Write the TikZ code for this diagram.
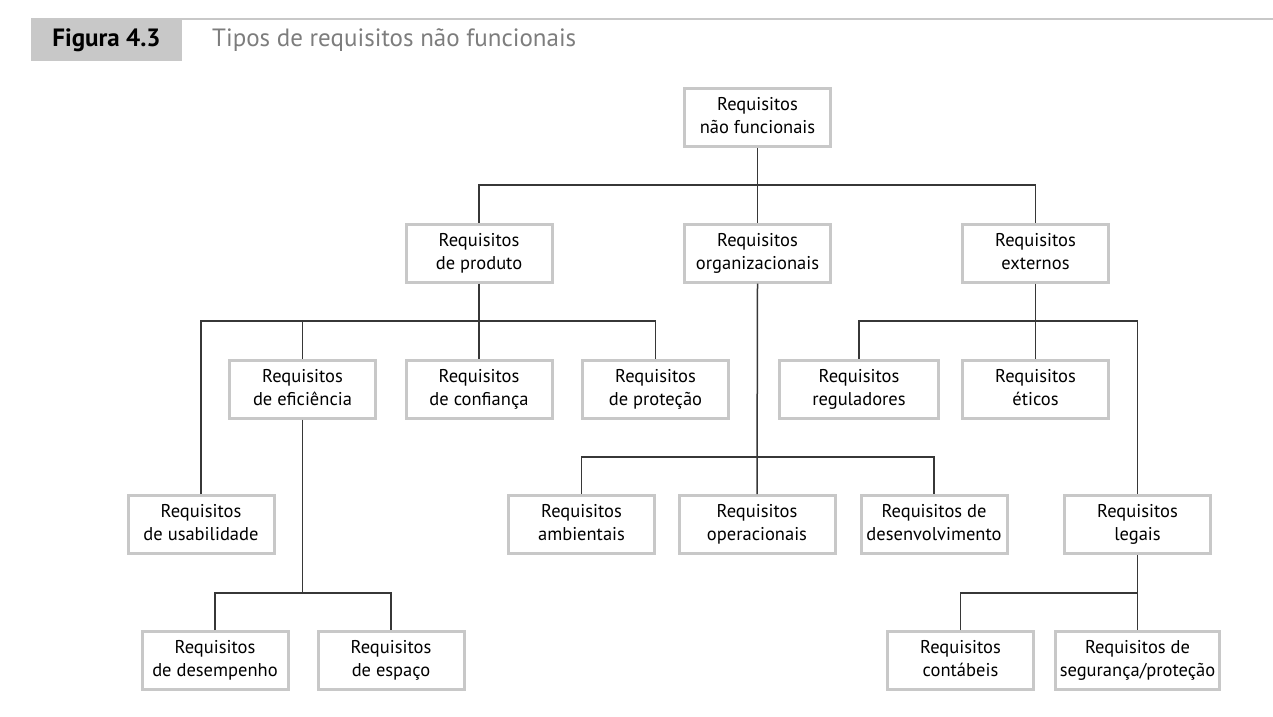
\documentclass[tikz,border=0pt]{standalone}
\usepackage{fontspec}
\setmainfont{PT Sans}
\usepackage{tikz}
\usetikzlibrary{positioning}
\tikzstyle{chart} = [x = 1pt, y = -1pt]
\definecolor{boxBorder}{RGB}{200,200,200}
\definecolor{linkColor}{RGB}{55,55,55}
\definecolor{titleGray}{RGB}{125,125,125}
\tikzstyle{reqBox} = [draw=boxBorder, fill=white, line width=3pt, minimum width=146pt, minimum height=58pt, inner sep=2pt, align=center, font=\fontsize{18.5}{23}\selectfont]
\tikzstyle{linkLine} = [color=linkColor, line width=1.5pt]
\newcommand{\reqNode}[5]{\node [reqBox] (#1) at (#2, #3) {\strut#4\\\strut#5};}

\begin{document}
\begin{tikzpicture}[chart]
  \useasboundingbox (0,0) rectangle (1273,716);
  % header
  \draw [boxBorder, line width=1.5pt] (182,19) -- (1273,19);
  \fill [boxBorder] (31,18) rectangle (182,61);
  \node (figNum) at (106.5,40) {\fontsize{25}{27}\selectfont\bfseries Figura 4.3};
  \node [anchor=west, text=titleGray, inner sep=0pt] (figTitle) at (212,40) {\fontsize{25}{27}\selectfont Tipos de requisitos não funcionais};
  % boxes
  \reqNode{raiz}{757.5}{117.5}{Requisitos}{não funcionais}
  \reqNode{produto}{479}{253}{Requisitos}{de produto}
  \reqNode{organizacionais}{757.5}{253}{Requisitos}{organizacionais}
  \reqNode{externos}{1035.5}{253}{Requisitos}{externos}
  \reqNode{eficiencia}{302.5}{389}{Requisitos}{de eficiência}
  \reqNode{confianca}{479}{389}{Requisitos}{de confiança}
  \reqNode{protecao}{655.5}{389}{Requisitos}{de proteção}
  \node [reqBox, minimum width=159pt] (reguladores) at (859,389) {\strut Requisitos\\\strut reguladores};
  \reqNode{eticos}{1035.5}{389}{Requisitos}{éticos}
  \reqNode{usabilidade}{201}{524.5}{Requisitos}{de usabilidade}
  \reqNode{ambientais}{581.5}{524.5}{Requisitos}{ambientais}
  \node [reqBox, minimum width=156pt] (operacionais) at (757,524.5) {\strut Requisitos\\\strut operacionais};
  \reqNode{desenvolvimento}{934}{524.5}{Requisitos de}{desenvolvimento}
  \reqNode{legais}{1137.5}{524.5}{Requisitos}{legais}
  \reqNode{desempenho}{215}{660.5}{Requisitos}{de desempenho}
  \reqNode{espaco}{391}{660.5}{Requisitos}{de espaço}
  \reqNode{contabeis}{960.5}{660.5}{Requisitos}{contábeis}
  \node [reqBox, minimum width=164pt] (seguranca) at (1137.5,660.5) {\strut Requisitos de\\\strut segurança/proteção};
  % bars
  \coordinate (barTop) at (757.5,185);
  \coordinate (barProduto) at (479,321);
  \coordinate (barExternos) at (1035.5,321);
  \coordinate (barOrg) at (757.5,457);
  \coordinate (barEficiencia) at (302.5,593);
  \coordinate (barLegais) at (1137.5,593);
  % links
  \draw [linkLine] (raiz.south) -- (organizacionais.north);
  \draw [linkLine] (produto.north) |- (barTop) -| (externos.north);
  \draw [linkLine] (produto.south) -- (confianca.north);
  \draw [linkLine] (usabilidade.north) |- (barProduto) -| (protecao.north);
  \draw [linkLine] (eficiencia.north) -- (eficiencia.north |- barProduto);
  \draw [linkLine] (externos.south) -- (eticos.north);
  \draw [linkLine] (reguladores.north) |- (barExternos) -| (legais.north);
  \draw [linkLine] (organizacionais.south) -- (operacionais.north);
  \draw [linkLine] (ambientais.north) |- (barOrg) -| (desenvolvimento.north);
  \draw [linkLine] (eficiencia.south) -- (barEficiencia);
  \draw [linkLine] (desempenho.north) |- (barEficiencia) -| (espaco.north);
  \draw [linkLine] (legais.south) -- (seguranca.north);
  \draw [linkLine] (contabeis.north) |- (barLegais);
\end{tikzpicture}
\end{document}
